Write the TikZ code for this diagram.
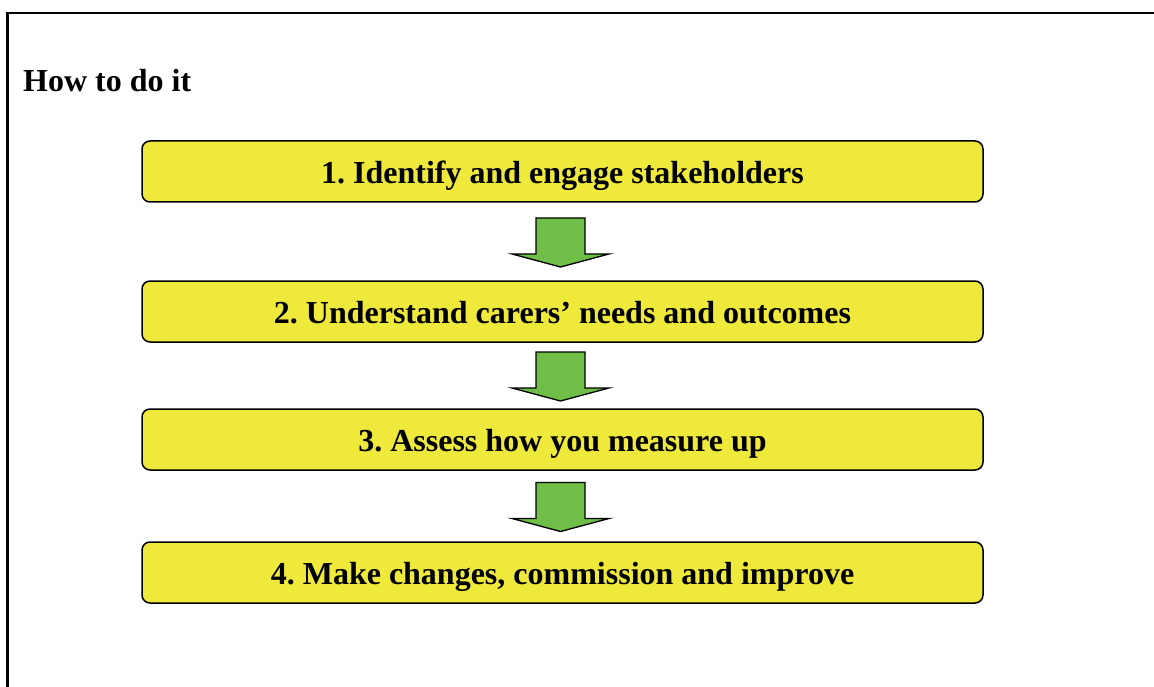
\documentclass[tikz,border=0pt]{standalone}
\usepackage{fontspec}
\setmainfont{Liberation Serif}
\frenchspacing
\usetikzlibrary{calc}
\definecolor{stepyellow}{RGB}{238,233,58}
\definecolor{stepgreen}{RGB}{110,190,72}
\tikzset{
  stepbox/.style={draw=black, line width=1.5pt, fill=stepyellow, rounded corners=8pt,
    minimum width=841pt, minimum height=61pt, inner sep=0pt,
    text height=24pt, text depth=0pt,
    font=\fontsize{32}{36}\selectfont\bfseries},
  downarrow/.style={draw=black, line width=1.3pt, fill=stepgreen, line join=miter}
}
\begin{document}
\begin{tikzpicture}[x=1pt,y=-1pt]
        \useasboundingbox (0,0) rectangle (1154,687);
        % Draw the frame
        \draw[line width=2.5pt] (7.5,687) -- (7.5,13) -- (1154,13);

        % Label the heading
        \node[anchor=base west, inner sep=0pt, font=\fontsize{32}{38}\selectfont\bfseries] (title) at (23,92) {How to do it};

        % Draw the steps
        \node[stepbox] (s1) at (562.5,171.5) {1. Identify and engage stakeholders};
        \node[stepbox] (s2) at (562.5,311.5) {2. Understand carers’ needs and outcomes};
        \node[stepbox] (s3) at (562.5,439.5) {3. Assess how you measure up};
        \node[stepbox] (s4) at (562.5,572.5) {4. Make changes, commission and improve};

        % Draw the arrows between the steps
        \foreach \a/\b in {s1/s2,s2/s3,s3/s4}{
          \coordinate (m) at ($(\a.south)!0.5!(\b.north)+(-2,0)$);
          \draw[downarrow] ($(m)+(-24.5,-23.5)$) -- ($(m)+(24.5,-23.5)$) -- ($(m)+(24.5,12.5)$)
            -- ($(m)+(48.5,12.5)$) -- ($(m)+(0,25.5)$) -- ($(m)+(-48.5,12.5)$)
            -- ($(m)+(-24.5,12.5)$) -- cycle;
        }
    \end{tikzpicture}
\end{document}
